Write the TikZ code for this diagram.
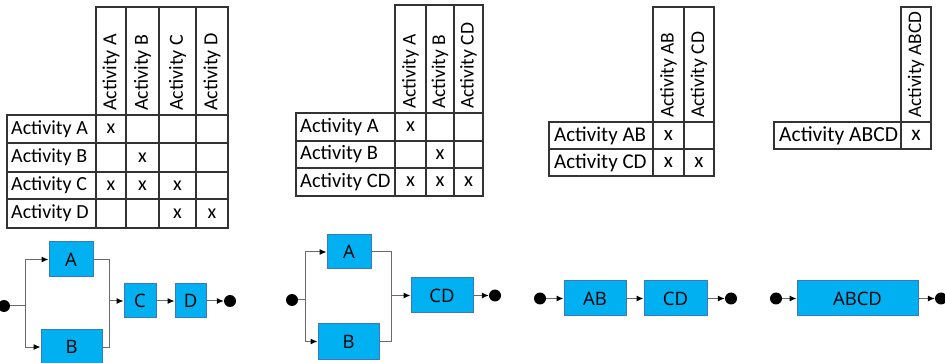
\documentclass[tikz,border=0pt]{standalone}
\usepackage{fontspec}
\setmainfont{Carlito}
\newfontfamily\boxfont{Open Sans}
\usetikzlibrary{arrows.meta}
\definecolor{boxfill}{HTML}{00B0F0}
\definecolor{boxline}{HTML}{3C78C0}
\definecolor{conncol}{HTML}{6A6A6A}
\definecolor{gridcol}{HTML}{333333}
\begin{document}
\begin{tikzpicture}[x=1pt,y=-1pt,
 cell/.style={font=\fontsize{#1}{#1}\selectfont, inner sep=0},
 cell/.default=20,
 rowlab/.style={cell=#1, anchor=west},
 rowlab/.default=20,
 colhead/.style={cell=#1, rotate=90, anchor=west},
 colhead/.default=20,
 gridline/.style={draw=gridcol, line width=1.2pt},
 act/.style={draw=boxline, fill=boxfill, line width=1pt, font=\boxfont\fontsize{18.5}{20}\selectfont, inner sep=0, minimum height=35pt},
 dot/.style={circle, fill=black, inner sep=0, minimum size=12pt},
 flow/.style={draw=conncol, line width=1pt},
 arr/.style={flow, -{Latex[length=7pt,width=6pt,color=black]}}]
\useasboundingbox (0,0) rectangle (945,363);

% ---------- Table 1 ----------
\draw[gridline] (96,7) rectangle (228,115);
\draw[gridline] (7,115) rectangle (228,228);
\foreach \x in {96,126,159,196} \draw[gridline] (\x,7) -- (\x,228);
\foreach \y in {143,172,199} \draw[gridline] (7,\y) -- (228,\y);
\node[colhead] (t1hA) at (111,111) {Activity A};
\node[colhead] (t1hB) at (142.5,111) {Activity B};
\node[colhead] (t1hC) at (177.5,111) {Activity C};
\node[colhead] (t1hD) at (212,111) {Activity D};
\node[rowlab] (t1rA) at (11,129) {Activity A};
\node[rowlab] (t1rB) at (11,157.5) {Activity B};
\node[rowlab] (t1rC) at (11,185.5) {Activity C};
\node[rowlab] (t1rD) at (11,213.5) {Activity D};
\node[cell] (t1aa) at (111,129) {x};
\node[cell] (t1bb) at (142.5,157.5) {x};
\node[cell] (t1ca) at (111,185.5) {x};
\node[cell] (t1cb) at (142.5,185.5) {x};
\node[cell] (t1cc) at (177.5,185.5) {x};
\node[cell] (t1dc) at (177.5,213.5) {x};
\node[cell] (t1dd) at (212,213.5) {x};

% ---------- Table 2 ----------
\draw[gridline] (395,5) rectangle (483,113);
\draw[gridline] (296,113) rectangle (483,196);
\foreach \x in {395,426,454} \draw[gridline] (\x,5) -- (\x,196);
\foreach \y in {141,168} \draw[gridline] (296,\y) -- (483,\y);
\node[colhead=19.5] (t2hA) at (410.5,109) {Activity A};
\node[colhead=19.5] (t2hB) at (440,109) {Activity B};
\node[colhead=19.5] (t2hCD) at (468.5,109) {Activity CD};
\node[rowlab=20.5] (t2rA) at (300,127) {Activity A};
\node[rowlab=20.5] (t2rB) at (300,154.5) {Activity B};
\node[rowlab=20.5] (t2rCD) at (300,182) {Activity CD};
\node[cell=20.5] (t2aa) at (410.5,127) {x};
\node[cell=20.5] (t2bb) at (440,154.5) {x};
\node[cell=20.5] (t2ca) at (410.5,182) {x};
\node[cell=20.5] (t2cb) at (440,182) {x};
\node[cell=20.5] (t2cc) at (468.5,182) {x};

% ---------- Table 3 ----------
\draw[gridline] (653,7) rectangle (714,122);
\draw[gridline] (549,122) rectangle (714,176);
\foreach \x in {653,684} \draw[gridline] (\x,7) -- (\x,176);
\draw[gridline] (549,149) -- (714,149);
\node[colhead=19.5] (t3hAB) at (668.5,118) {Activity AB};
\node[colhead=19.5] (t3hCD) at (699,118) {Activity CD};
\node[rowlab=21] (t3rAB) at (554,135.5) {Activity AB};
\node[rowlab=21] (t3rCD) at (554,162.5) {Activity CD};
\node[cell=21] (t3aa) at (668.5,135.5) {x};
\node[cell=21] (t3ba) at (668.5,162.5) {x};
\node[cell=21] (t3bb) at (699,162.5) {x};

% ---------- Table 4 ----------
\draw[gridline] (901,7) rectangle (931,122);
\draw[gridline] (774,122) rectangle (931,149);
\draw[gridline] (901,122) -- (901,149);
\node[colhead=19.2] (t4h) at (916,118) {Activity ABCD};
\node[rowlab=21.5] (t4r) at (779,135.5) {Activity ABCD};
\node[cell=21.5] (t4aa) at (916,135.5) {x};

% ---------- Flow 1 ----------
\node[dot] (s1) at (4,306) {};
\node[act, minimum width=44pt] (A1) at (71,259.5) {A};
\node[act, minimum width=61pt, minimum height=36pt] (B1) at (71.5,347) {B};
\node[act, minimum width=32pt, minimum height=34pt] (C1) at (140,301) {C};
\node[act, minimum width=31pt, minimum height=34pt] (D1) at (190.5,301) {D};
\node[dot] (e1) at (230,301) {};
\coordinate (j1) at (25,306);
\coordinate (m1) at (109,301);
\draw[flow] (s1) -- (j1);
\draw[arr] (j1) |- (A1);
\draw[arr] (j1) |- (B1);
\draw[flow] (A1.east) -| (m1);
\draw[flow] (B1.east) -| (m1);
\draw[arr] (m1) -- (C1);
\draw[arr] (C1) -- (D1);
\draw[arr] (D1) -- (e1);

% ---------- Flow 2 ----------
\node[dot] (s2) at (292,300) {};
\node[act, minimum width=44pt, minimum height=34pt] (A2) at (349,252) {A};
\node[act, minimum width=61pt] (B2) at (348.5,341.5) {B};
\node[act, minimum width=62pt] (CD2) at (442,295.5) {CD};
\node[dot] (e2) at (495,295.5) {};
\coordinate (j2) at (305,300);
\coordinate (m2) at (391,295.5);
\draw[flow] (s2) -- (j2);
\draw[arr] (j2) |- (A2);
\draw[arr] (j2) |- (B2);
\draw[flow] (A2.east) -| (m2);
\draw[flow] (B2.east) -| (m2);
\draw[arr] (m2) -- (CD2);
\draw[arr] (CD2) -- (e2);

% ---------- Flow 3 ----------
\node[dot] (s3) at (540,298.5) {};
\node[act, minimum width=62pt] (AB3) at (595,298.5) {AB};
\node[act, minimum width=63pt] (CD3) at (675.5,298.5) {CD};
\node[dot] (e3) at (731,298.5) {};
\draw[arr] (s3) -- (AB3);
\draw[arr] (AB3) -- (CD3);
\draw[arr] (CD3) -- (e3);

% ---------- Flow 4 ----------
\node[dot] (s4) at (776,298.5) {};
\node[act, minimum width=121pt] (ABCD4) at (857.5,298.5) {ABCD};
\node[dot] (e4) at (941,298.5) {};
\draw[arr] (s4) -- (ABCD4);
\draw[arr] (ABCD4) -- (e4);
\end{tikzpicture}
\end{document}
